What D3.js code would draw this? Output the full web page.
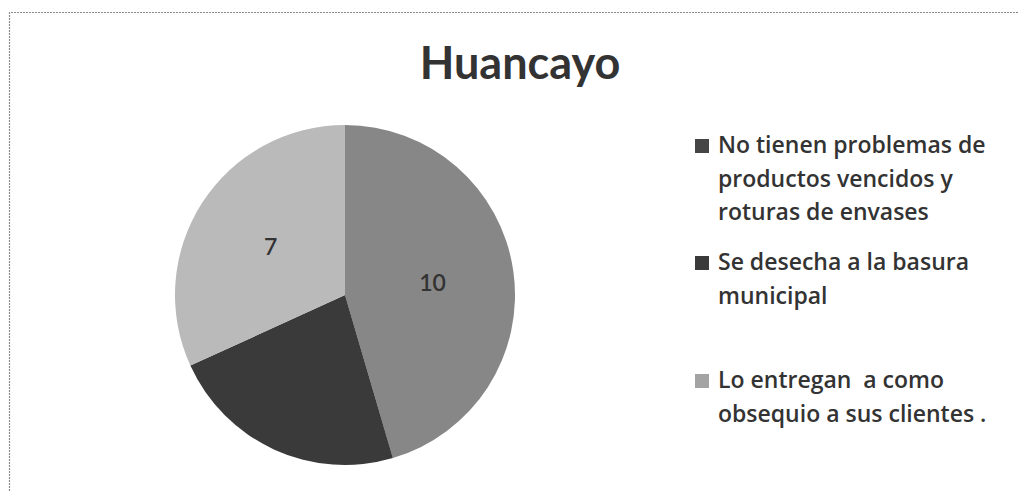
<!DOCTYPE html>
<html>
<head>
<meta charset="utf-8">
<script src="https://cdn.jsdelivr.net/npm/d3@7"></script>
<style>
  html, body { margin: 0; padding: 0; background: #fff; }
  svg { display: block; font-family: Lato, "Open Sans", sans-serif; }
</style>
</head>
<body>
<div id="chart"></div>
<script>
// Data
const title = "Huancayo";
const categories = [
    "No tienen problemas de productos vencidos y roturas de envases",
    "Se desecha a la basura municipal",
    "Lo entregan  a como obsequio a sus clientes ."
];
// legend text as it wraps in the original
const legendLines = [
    ["No tienen problemas de", "productos vencidos y", "roturas de envases"],
    ["Se desecha a la basura", "municipal"],
    ["Lo entregan  a como", "obsequio a sus clientes ."]
];
const values = [10, 5, 7];

const sliceColors = ["#878787", "#3a3a3a", "#bababa"];
const swatchColors = ["#454545", "#3a3a3a", "#a3a3a3"];
// the label on the dark slice is dark too, so it hardly shows
const labelColors = ["#333", "#3b3b3b", "#333"];

const width = 1019, height = 491;
const cx = 345, cy = 295, radius = 170;

const svg = d3.select("#chart").append("svg")
    .attr("width", width)
    .attr("height", height)
    .attr("viewBox", [0, 0, width, height]);

// chart frame (only top and left edges visible in the crop)
svg.append("path")
    .attr("d", `M9.5,${height} V12.5 H${width}`)
    .attr("fill", "none")
    .attr("stroke", "#8c8c8c")
    .attr("stroke-width", 1.2)
    .attr("stroke-dasharray", "2,1");

// title
svg.append("text")
    .attr("x", 520)
    .attr("y", 79)
    .attr("text-anchor", "middle")
    .attr("font-size", "45px")
    .attr("font-weight", 700)
    .attr("fill", "#333")
    .text(title);

const color = d3.scaleOrdinal()
    .domain(categories)
    .range(sliceColors);

const pie = d3.pie()
    .sort(null)
    .value(d => d.value);

const data = categories.map((c, i) => ({ name: c, value: values[i] }));
const arcs = pie(data);

const arc = d3.arc()
    .innerRadius(0)
    .outerRadius(radius);

// labels sit at about half the radius, like the original
const labelArc = d3.arc()
    .innerRadius(radius * 0.52)
    .outerRadius(radius * 0.52);

const g = svg.append("g")
    .attr("transform", `translate(${cx},${cy})`);

g.selectAll("path.slice")
    .data(arcs)
    .enter().append("path")
    .attr("class", "slice")
    .attr("fill", d => color(d.data.name))
    .attr("d", arc);

g.selectAll("text.lbl")
    .data(arcs)
    .enter().append("text")
    .attr("class", "lbl")
    .attr("transform", d => `translate(${labelArc.centroid(d)})`)
    .attr("text-anchor", "middle")
    .attr("dy", "0.36em")
    .attr("font-size", "23px")
    .attr("font-weight", 600)
    .attr("fill", (d, i) => labelColors[i])
    .text(d => d.data.value);

// legend
const legendY = [153, 270, 388];   // first baseline of each entry
const lineStep = 33.5;

const legend = svg.append("g")
    .style("font-family", "'Open Sans', Lato, sans-serif");
const items = legend.selectAll("g")
    .data(categories)
    .enter().append("g")
    .attr("transform", (d, i) => `translate(695, ${legendY[i]})`);

items.append("rect")
    .attr("x", 0)
    .attr("y", -14)
    .attr("width", 14)
    .attr("height", 14)
    .attr("fill", (d, i) => swatchColors[i]);

items.append("text")
    .attr("x", 23)
    .attr("font-size", "23px")
    .attr("font-weight", 600)
    .attr("fill", "#333")
    .style("white-space", "pre")
    .selectAll("tspan")
    .data((d, i) => legendLines[i])
    .enter().append("tspan")
    .attr("x", 23)
    .attr("y", (d, j) => j * lineStep)
    .text(d => d);
</script>
</body>
</html>
